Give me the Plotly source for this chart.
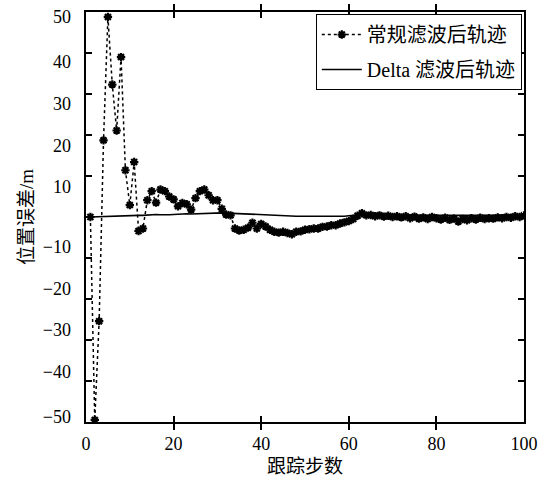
import plotly.graph_objects as go

# ---------------- data ----------------
steps = list(range(1, 101))

conventional = [
    0.0, -49.5, -25.4, 18.7, 48.8, 32.3, 21.1, 39.0, 11.4, 2.9,
    13.4, -3.4, -2.8, 4.1, 6.3, 3.5, 6.7, 6.3, 5.0, 4.3,
    2.6, 3.4, 3.1, 1.8, 4.6, 6.3, 6.7, 5.3, 4.1, 4.1,
    2.0, 0.6, 0.4, -2.8, -3.3, -3.1, -2.6, -1.4, -2.8, -1.7,
    -2.3, -3.1, -3.6, -3.8, -3.6, -3.9, -4.2, -3.6, -3.5, -3.1,
    -3.0, -2.8, -2.8, -2.4, -2.3, -2.0, -2.0, -1.6, -1.3, -1.0,
    -0.5, 0.3, 0.9, 0.4, 0.5, 0.2, 0.4, 0.1, 0.3, 0.0,
    0.2, -0.1, 0.2, -0.3, 0.1, -0.4, -0.1, -0.5, 0.0, -0.3,
    -0.6, -0.2, -0.7, -0.4, -1.1, -0.5, -0.8, -0.3, -0.6, -0.2,
    -0.5, -0.3, -0.4, -0.1, -0.3, 0.0, -0.2, 0.2, 0.0, 0.4,
]

delta = [
    0.0, 0.05, 0.1, 0.1, 0.15, 0.2, 0.2, 0.25, 0.3, 0.3,
    0.35, 0.4, 0.4, 0.5, 0.6, 0.6, 0.55, 0.5, 0.55, 0.6,
    0.7, 0.75, 0.8, 0.75, 0.8, 0.9, 0.9, 1.0, 1.0, 1.0,
    1.0, 0.95, 0.9, 0.85, 0.8, 0.75, 0.7, 0.7, 0.65, 0.6,
    0.5, 0.4, 0.3, 0.25, 0.2, 0.2, 0.2, 0.2, 0.2, 0.2,
    0.2, 0.2, 0.2, 0.2, 0.2, 0.15, 0.1, 0.1, 0.2, 0.3,
    0.45, 0.6, 0.6, 0.5, 0.45, 0.4, 0.4, 0.35, 0.35, 0.4,
    0.4, 0.35, 0.3, 0.3, 0.35, 0.35, 0.3, 0.3, 0.3, 0.35,
    0.35, 0.3, 0.3, 0.25, 0.25, 0.3, 0.3, 0.3, 0.35, 0.35,
    0.3, 0.3, 0.3, 0.35, 0.35, 0.35, 0.4, 0.4, 0.4, 0.4,
]

x_ticks = [0, 20, 40, 60, 80, 100]
y_ticks = [50, 40, 30, 20, 10, 0, -10, -20, -30, -40, -50]
# printed labels (the original figure's labels are not aligned with its ticks)
y_label_pos = [48.8, 37.8, 27.6, 17.5, 7.3, -7.3, -17.5, -27.6, -37.8, -48.8]
y_label_text = ["50", "40", "30", "20", "10", "\u221210", "\u221220", "\u221230", "\u221240", "\u221250"]

names = ["常规滤波后轨迹", "Delta 滤波后轨迹"]

FONT = "Liberation Serif, Noto Sans CJK SC"
NUMFONT = "Liberation Serif"

fig = go.Figure()
fig.add_trace(go.Scatter(
    x=steps, y=conventional, name=names[0], mode="lines+markers",
    line=dict(color="black", width=1.5, dash="dot"),
    marker=dict(symbol="asterisk-open", size=7, color="black",
                line=dict(color="black", width=2.2)),
    legendgroup="a",
))
fig.add_trace(go.Scatter(
    x=steps, y=delta, name=names[1], mode="lines",
    line=dict(color="black", width=1.6),
    legendgroup="b",
))
# invisible trace to anchor the tick axis
fig.add_trace(go.Scatter(x=[0], y=[0], yaxis="y2", mode="markers",
                         marker=dict(opacity=0), showlegend=False, hoverinfo="skip"))

fig.update_layout(
    width=538, height=477,
    margin=dict(l=86, r=14, t=12, b=55),
    paper_bgcolor="white", plot_bgcolor="white",
    font=dict(family=FONT, size=18, color="black"),
    showlegend=True,
    legend=dict(
        x=0.995, y=0.995, xanchor="right", yanchor="top",
        bgcolor="white", bordercolor="black", borderwidth=1,
        font=dict(family=FONT, size=20, color="black"),
        tracegroupgap=6, itemwidth=40,
    ),
    xaxis=dict(
        range=[0, 100], tickvals=x_ticks, ticktext=[str(v) for v in x_ticks],
        ticks="inside", ticklen=6, tickwidth=1.5, tickcolor="black",
        showline=True, linecolor="black", linewidth=2, mirror="allticks",
        showgrid=False, zeroline=False, automargin=False,
        tickfont=dict(family=NUMFONT, size=18),
        ticklabelstandoff=4,
        title=dict(text="跟踪步数", font=dict(family=FONT, size=19), standoff=8),
    ),
    yaxis=dict(
        range=[-50, 50], tickvals=y_label_pos, ticktext=y_label_text,
        ticks="", showline=False, showgrid=False, zeroline=False, automargin=False,
        tickfont=dict(family=NUMFONT, size=18),
        ticklabelstandoff=14,
        title=dict(text="位置误差/m", font=dict(family=FONT, size=19), standoff=4),
    ),
    yaxis2=dict(
        range=[-50, 50], overlaying="y", side="left",
        tickvals=y_ticks, showticklabels=False,
        ticks="inside", ticklen=6, tickwidth=1.5, tickcolor="black",
        showline=True, linecolor="black", linewidth=2, mirror="allticks",
        showgrid=False, zeroline=False, automargin=False,
    ),
)

fig.write_html("out.html")
